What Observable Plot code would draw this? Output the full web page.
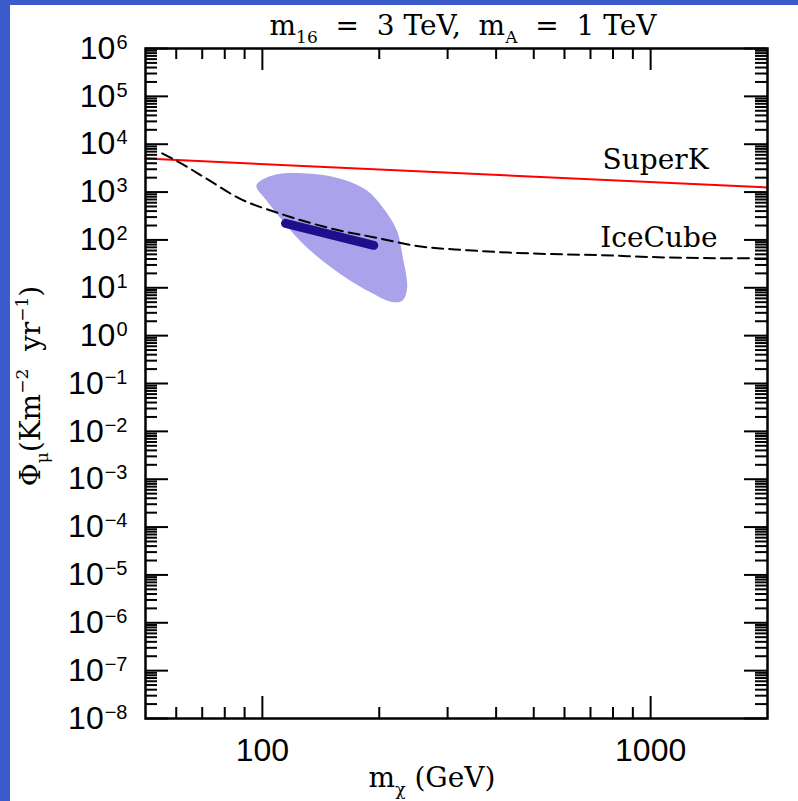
<!DOCTYPE html>
<html><head><meta charset="utf-8">
<script src="https://cdn.jsdelivr.net/npm/d3@7"></script>
<script src="https://cdn.jsdelivr.net/npm/@observablehq/plot@0.6"></script>
<style>
html,body{margin:0;padding:0;background:#fff;}
#wrap{position:relative;width:798px;height:801px;overflow:hidden;background:#fff;}
.strip{position:absolute;background:#3a5bc9;z-index:2;}
#left{left:0;top:0;width:10px;height:801px;}
#top{left:0;top:0;width:798px;height:5px;}
svg{display:block;}
</style></head><body><div id="wrap"><div id="left" class="strip"></div><div id="top" class="strip"></div></div>
<script>
// ---- data ----
const superKMass = [50, 2000];
const superKFlux = [5000, 1250];
const iceCubeMass = [55.2, 61.1, 71.6, 87.2, 110.6, 158, 200, 244, 337, 499, 743, 1107, 2000];
const iceCubeFlux = [6430, 4170, 1930, 738, 359, 158, 108, 77, 61, 52, 48, 43, 41];
const regionMass = [96.5, 106.1, 129.9, 158, 185.7, 204, 222, 230, 236, 230, 217, 192, 158, 130, 112.6, 102.4];
const regionFlux = [1380, 2230, 2450, 1930, 1090, 480, 158, 43, 10.2, 5.5, 5.0, 7.7, 20, 70, 256, 671];
const bandMass = [114.7, 149, 193.6];
const bandFlux = [222, 131, 77];
const xTickValues = [100, 1000];
const yTickExponents = [-8, -7, -6, -5, -4, -3, -2, -1, 0, 1, 2, 3, 4, 5, 6];
const curveLabels = ["SuperK", "IceCube"];
const curveLabelMass = [1030, 1050];
const curveLabelFlux = [4590, 108];
const xDomain = [50, 2000];
const yDomain = [1e-8, 1e6];

// ---- tables ----
const toRows = (ms, fs) => ms.map((m, i) => ({m, f: fs[i]}));
const superK = toRows(superKMass, superKFlux);
const iceCube = toRows(iceCubeMass, iceCubeFlux);
const region = toRows(regionMass, regionFlux);
const band = toRows(bandMass, bandFlux);
const labels = curveLabels.map((name, i) => ({name, m: curveLabelMass[i], f: curveLabelFlux[i]}));

const W = 798, H = 801, ML = 145, MR = 31, MT = 48, MB = 83;
const plotW = W - ML - MR, plotH = H - MT - MB;

const yMajor = yTickExponents.map(e => Math.pow(10, e));
const isPow = v => Math.abs(Math.log10(v) - Math.round(Math.log10(v))) < 1e-9;
const yMinor = d3.scaleLog().domain(yDomain).ticks(30).filter(v => !isPow(v));
const xMinor = d3.scaleLog().domain(xDomain).ticks(20).filter(v => !isPow(v) && v > xDomain[0] && v < xDomain[1]);

const tk = {stroke: "black", strokeWidth: 2};
const serif = "'DejaVu Serif', serif";

const chart = Plot.plot({
  width: W, height: H,
  marginLeft: ML, marginRight: MR, marginTop: MT, marginBottom: MB,
  x: {type: "log", domain: xDomain},
  y: {type: "log", domain: yDomain},
  style: {fontFamily: "'Liberation Sans', Arial, sans-serif", fontSize: "32px", background: "white", color: "black"},
  marks: [
    Plot.line(region, {x: "m", y: "f", fill: "#aba2ec", stroke: "none", curve: "catmull-rom-closed"}),
    Plot.line(superK, {x: "m", y: "f", stroke: "#ff0000", strokeWidth: 2}),
    Plot.line(iceCube, {x: "m", y: "f", stroke: "black", strokeWidth: 2, strokeDasharray: "11,6", curve: "monotone-x"}),
    Plot.line(band, {x: "m", y: "f", stroke: "#1e0f8c", strokeWidth: 9, strokeLinecap: "round"}),
    Plot.tickX(xMinor, {x: d => d, insetTop: plotH - 11, ...tk}),
    Plot.tickX(xMinor, {x: d => d, insetBottom: plotH - 11, ...tk}),
    Plot.tickX(xTickValues, {x: d => d, insetTop: plotH - 22, ...tk}),
    Plot.tickX(xTickValues, {x: d => d, insetBottom: plotH - 22, ...tk}),
    Plot.tickY(yMinor, {y: d => d, insetRight: plotW - 12, ...tk}),
    Plot.tickY(yMinor, {y: d => d, insetLeft: plotW - 12, ...tk}),
    Plot.tickY(yMajor, {y: d => d, insetRight: plotW - 23, ...tk}),
    Plot.tickY(yMajor, {y: d => d, insetLeft: plotW - 23, ...tk}),
    Plot.frame({stroke: "black", strokeWidth: 2.5}),
    Plot.axisX(xTickValues, {tickSize: 0, tickPadding: 20, tickFormat: d => String(d), label: null, fontSize: 32}),
    Plot.axisY(yMajor, {tickSize: 0, tickPadding: 18, tickFormat: d => "10^" + Math.round(Math.log10(d)), label: null, fontSize: 32}),
    Plot.text(labels, {x: "m", y: "f", text: "name", fontFamily: serif, fontSize: 28, textAnchor: "middle", lineAnchor: "middle", fill: "black"})
  ]
});

const NS = "http://www.w3.org/2000/svg";
// superscript exponents on y tick labels
chart.querySelectorAll('[aria-label="y-axis tick label"] text').forEach(t => {
  const m = t.textContent.match(/^10\^(.+)$/);
  if (!m) return;
  t.textContent = "";
  const a = document.createElementNS(NS, "tspan");
  a.textContent = "10";
  t.appendChild(a);
  const b = document.createElementNS(NS, "tspan");
  b.textContent = m[1].replace("-", "\u2212");
  b.setAttribute("dy", "-10");
  b.setAttribute("dx", "1");
  b.setAttribute("font-size", "20");
  t.appendChild(b);
});

function rich(parent, parts, F) {
  let prev = 0;
  parts.forEach(p => {
    const s = document.createElementNS(NS, "tspan");
    s.textContent = p.t;
    const shift = p.sub ? 0.3 * F : p.sup ? -0.42 * F : 0;
    if (shift !== prev) s.setAttribute("dy", String(shift - prev));
    if (p.sub || p.sup) s.setAttribute("font-size", String(Math.round(0.62 * F)));
    prev = shift;
    parent.appendChild(s);
  });
}
function addText(x, y, parts, F, anchor, rotate) {
  const t = document.createElementNS(NS, "text");
  t.setAttribute("font-family", serif);
  t.setAttribute("font-size", String(F));
  t.setAttribute("text-anchor", anchor);
  t.setAttribute("fill", "black");
  t.style.whiteSpace = "pre";
  if (rotate) t.setAttribute("transform", `translate(${x},${y}) rotate(${rotate})`);
  else { t.setAttribute("x", x); t.setAttribute("y", y); }
  rich(t, parts, F);
  chart.appendChild(t);
}
addText(463, 35, [{t: "m"}, {t: "16", sub: true}, {t: "  =  3 TeV,  m"}, {t: "A", sub: true}, {t: "  =  1 TeV"}], 28, "middle");
addText(432, 787, [{t: "m"}, {t: "\u03C7", sub: true}, {t: " (GeV)"}], 28, "middle");
addText(40, 386, [{t: "\u03A6"}, {t: "\u03BC", sub: true}, {t: "(Km"}, {t: "\u22122", sup: true}, {t: "  yr"}, {t: "\u22121", sup: true}, {t: ")"}], 28, "middle", -90);

document.getElementById("wrap").appendChild(chart);
</script></body></html>
